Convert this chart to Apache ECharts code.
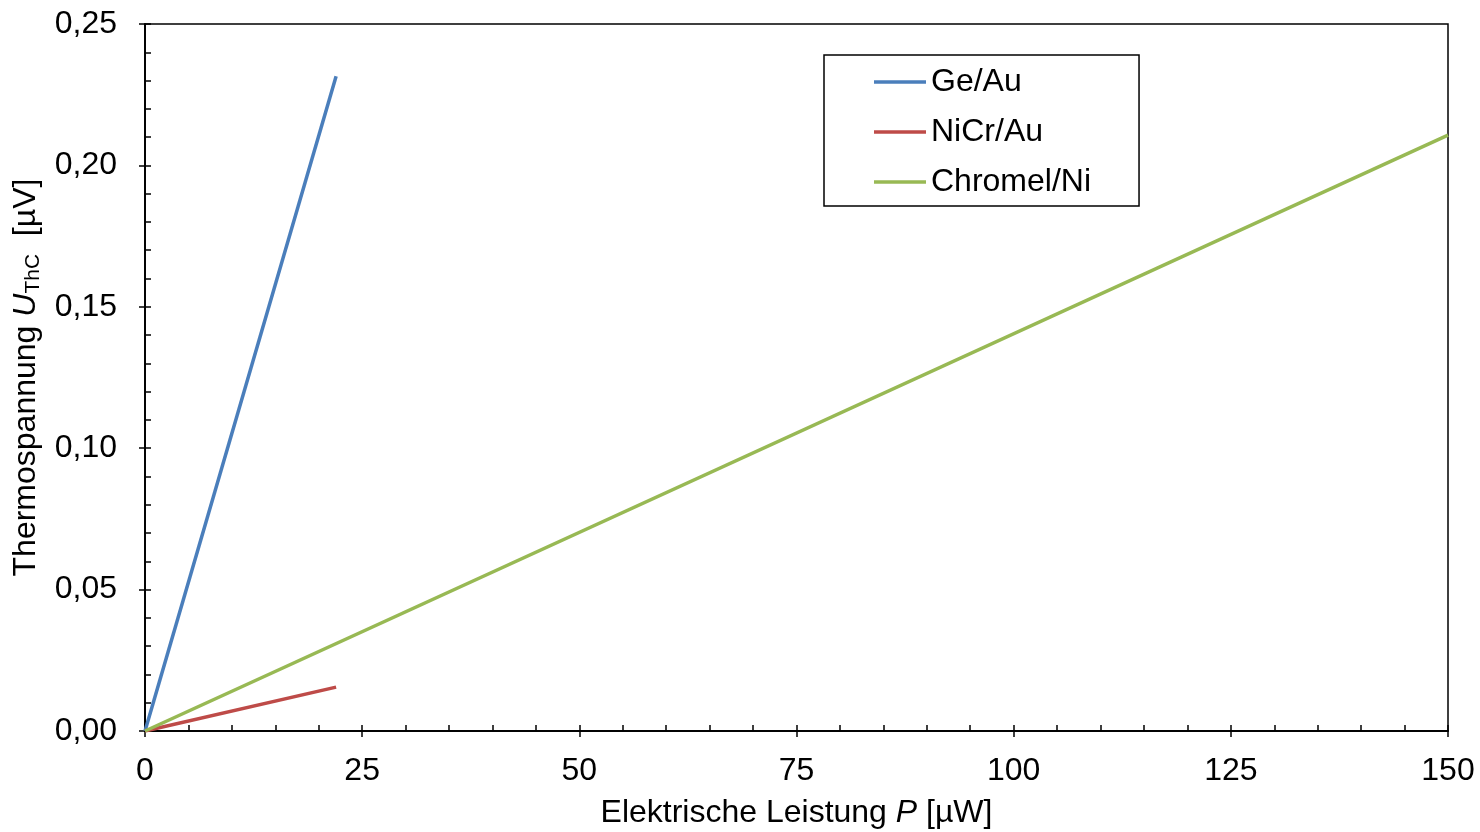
<!DOCTYPE html>
<html>
<head>
<meta charset="utf-8">
<script src="https://cdn.jsdelivr.net/npm/echarts@6/dist/echarts.min.js"></script>
<style>
  html, body { margin: 0; padding: 0; background: #fff; }
  #chart { width: 1480px; height: 832px; }
</style>
</head>
<body>
<div id="chart"></div>
<script>
// data: [P in µW, U in µV]
const geAu = [[0, 0], [22, 0.2315]];
const niCrAu = [[0, 0], [22, 0.0155]];
const chromelNi = [[0, 0], [150, 0.2107]];
const seriesNames = ["Ge/Au", "NiCr/Au", "Chromel/Ni"];
const seriesColors = ["#4A7EBB", "#BE4B48", "#98B954"];

const font = "'Liberation Sans', Arial, sans-serif";
const fs = 32;
const fmt = v => v.toFixed(2).replace(".", ",");

const chart = echarts.init(document.getElementById("chart"));

const tickStyle = { color: "#000", width: 1.5 };
const baseX = {
  type: "value",
  min: 0,
  max: 150,
  interval: 25,
  splitLine: { show: false },
  axisLine: { onZero: false, lineStyle: { color: "#000", width: 1.5 } }
};
const baseY = {
  type: "value",
  min: 0,
  max: 0.25,
  interval: 0.05,
  splitLine: { show: false },
  axisLine: { onZero: false, lineStyle: { color: "#000", width: 1.5 } }
};

const option = {
  backgroundColor: "#fff",
  animation: false,
  color: seriesColors,
  textStyle: { fontFamily: font, color: "#000" },
  grid: {
    left: 145, right: 32, top: 24, bottom: 101,
    outerBoundsMode: "none",
    containLabel: false,
    show: true, borderColor: "#000", borderWidth: 1.5
  },
  legend: {
    orient: "vertical",
    left: 824,
    top: 55,
    data: seriesNames,
    icon: "rect",
    itemWidth: 52,
    itemHeight: 3.5,
    itemGap: 18,
    padding: [11, 48, 8, 50],
    borderColor: "#000",
    borderWidth: 1.5,
    textStyle: { fontFamily: font, fontSize: fs, color: "#000" }
  },
  xAxis: [
    Object.assign({}, baseX, {
      name: "{n|Elektrische Leistung }{i|P}{n| [µW]}",
      nameLocation: "middle",
      nameGap: 66,
      nameTextStyle: {
        rich: {
          n: { fontFamily: font, fontSize: fs, color: "#000" },
          i: { fontFamily: font, fontSize: fs, color: "#000", fontStyle: "italic" }
        }
      },
      axisTick: { show: true, inside: false, length: 6, lineStyle: tickStyle },
      axisLabel: { fontFamily: font, fontSize: fs, color: "#000", margin: 24 }
    }),
    Object.assign({}, baseX, {
      position: "bottom",
      axisLabel: { show: false },
      axisTick: { show: true, inside: true, length: 6, lineStyle: tickStyle },
      minorTick: { show: true, splitNumber: 5, length: 6, lineStyle: tickStyle }
    })
  ],
  yAxis: [
    Object.assign({}, baseY, {
      name: "{n|Thermospannung }{i|U}{s|ThC}{n|  [µV]}",
      nameLocation: "middle",
      nameGap: 98,
      nameTextStyle: {
        rich: {
          n: { fontFamily: font, fontSize: fs, color: "#000" },
          i: { fontFamily: font, fontSize: fs, color: "#000", fontStyle: "italic" },
          s: { fontFamily: font, fontSize: 21, color: "#000", verticalAlign: "bottom", padding: [14, 0, 0, 0] }
        }
      },
      axisTick: { show: true, inside: false, length: 6, lineStyle: tickStyle },
      axisLabel: { fontFamily: font, fontSize: fs, color: "#000", margin: 28, formatter: fmt }
    }),
    Object.assign({}, baseY, {
      position: "left",
      axisLabel: { show: false },
      axisTick: { show: true, inside: true, length: 6, lineStyle: tickStyle },
      minorTick: { show: true, splitNumber: 5, length: 6, lineStyle: tickStyle }
    })
  ],
  series: [
    { name: seriesNames[0], type: "line", data: geAu, symbol: "none", lineStyle: { width: 3.5 } },
    { name: seriesNames[1], type: "line", data: niCrAu, symbol: "none", lineStyle: { width: 3.5 } },
    { name: seriesNames[2], type: "line", data: chromelNi, symbol: "none", lineStyle: { width: 3.5 } }
  ]
};

chart.setOption(option);
</script>
</body>
</html>
